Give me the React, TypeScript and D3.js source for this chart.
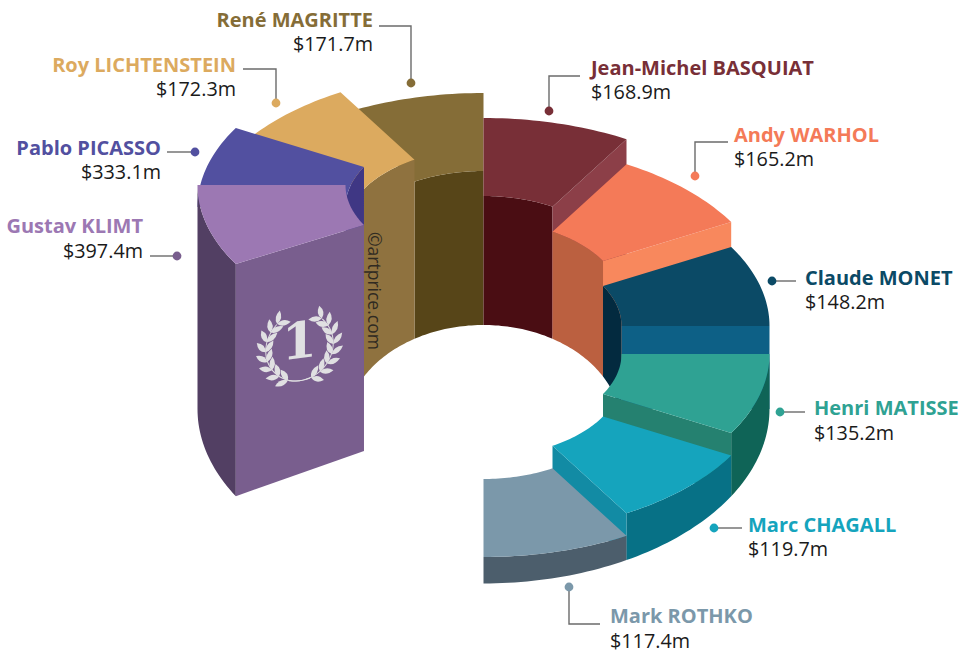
import React from "react";
import * as d3 from "d3";

const artists = [
  "Gustav KLIMT",
  "Pablo PICASSO",
  "Roy LICHTENSTEIN",
  "René MAGRITTE",
  "Jean-Michel BASQUIAT",
  "Andy WARHOL",
  "Claude MONET",
  "Henri MATISSE",
  "Marc CHAGALL",
  "Mark ROTHKO",
];
const sales = [397.4, 333.1, 172.3, 171.7, 168.9, 165.2, 148.2, 135.2, 119.7, 117.4];

const topColors = ["#9c78b3", "#5250a0", "#dcaa5f", "#856d37", "#782f37", "#f47a58", "#0b4a66", "#2fa293", "#15a4bd", "#7b98aa"];
const cutColors = ["#795e8e", "#5250a0", "#dcaa5f", "#856d37", "#8c3f48", "#f8885d", "#0d6086", "#258170", "#128ba4", "#4c5e6c"];
const innerColors = ["#3f3784", "#3f3784", "#8f723f", "#574518", "#4a0d13", "#bb6040", "#032a3f", "#0f6457", "#077186", "#4c5e6c"];
const outerColors = ["#523f63", "#3f3784", "#8f723f", "#574518", "#4a0d13", "#bb6040", "#0b4a66", "#0f6457", "#077186", "#4c5e6c"];
const dotColors = ["#795e8e", "#5250a0", "#dcaa5f", "#856d37", "#782f37", "#f47a58", "#0b4a66", "#2fa293", "#15a4bd", "#7b98aa"];

// label text anchor + leader polyline, same order as artists
const labelLayout = [
  { x: 143, y: 233, dy: 25, anchor: "end", leader: [[150, 256], [177, 256]] },
  { x: 161, y: 155, dy: 24, anchor: "end", leader: [[167, 152], [195, 152]] },
  { x: 236, y: 72, dy: 24, anchor: "end", leader: [[243, 69], [276, 69], [276, 103]] },
  { x: 373, y: 27, dy: 24, anchor: "end", leader: [[379, 26], [411, 26], [411, 83]] },
  { x: 591, y: 75, dy: 24, anchor: "start", leader: [[580, 76], [549, 76], [549, 111]] },
  { x: 734, y: 142, dy: 24, anchor: "start", leader: [[728, 142], [695, 142], [695, 176]] },
  { x: 805, y: 285, dy: 24, anchor: "start", leader: [[796, 281], [772, 281]] },
  { x: 814, y: 415, dy: 25, anchor: "start", leader: [[805, 412], [780, 412]] },
  { x: 748, y: 532, dy: 24, anchor: "start", leader: [[742, 528], [714, 528]] },
  { x: 610, y: 623, dy: 24.5, anchor: "start", leader: [[600, 624], [569, 624], [569, 587]] },
];

const width = 964;
const height = 651;
const cx = 483.5;
const outerR = 286;
const innerR = 138;
const outerRy = 158;
const innerRy = 80;
const baseK = 0.61;
const baseY = 409;
const holeY = 428;
const holeRy = 103;

const rad = (d: number) => (d * Math.PI) / 180;

// slices run clockwise from Klimt at 240deg, 30deg each, leaving a 60deg gap
const angle = d3.scaleLinear().domain([0, artists.length]).range([rad(240), rad(540)]);
// each step of the staircase sits lower than the previous one
const topY = d3.scaleLinear().domain([0, 3, 6, 7, 9]).range([185, 251, 326, 354, 399]);

const pt = (r: number, a: number, y: number, ry: number): [number, number] => [
  cx + r * Math.sin(a),
  y - ry * Math.cos(a),
];
const line = d3.line();

const sweep = (a0: number, a1: number) => d3.range(0, 25).map((i) => a0 + ((a1 - a0) * i) / 24);

function wall(r: number, ryTop: number, a0: number, a1: number, yTop: number, yBase: number, ryBase: number) {
  const upper = sweep(a0, a1).map((a) => pt(r, a, yTop, ryTop));
  const lower = sweep(a1, a0).map((a) => pt(r, a, yBase, ryBase));
  return line([...upper, ...lower]) + "Z";
}

function surface(a0: number, a1: number, yTop: number) {
  const outer = sweep(a0, a1).map((a) => pt(outerR, a, yTop, outerRy));
  const inner = sweep(a1, a0).map((a) => pt(innerR, a, yTop, innerRy));
  return line([...outer, ...inner]) + "Z";
}

function cut(a: number, yTop: number) {
  return (
    line([
      pt(innerR, a, yTop, innerRy),
      pt(outerR, a, yTop, outerRy),
      pt(outerR, a, baseY, outerR * baseK),
      pt(innerR, a, baseY, innerR * baseK),
    ]) + "Z"
  );
}

function Slice({ i }: { i: number }) {
  const a0 = angle(i);
  const a1 = angle(i + 1);
  const yTop = topY(i);
  const mid = (a0 + a1) / 2;
  const back = Math.cos(mid) > 0;
  return (
    <g>
      {back && <path d={wall(innerR, innerRy, a0, a1, yTop, holeY, holeRy)} fill={innerColors[i]} />}
      {!back && <path d={wall(outerR, outerRy, a0, a1, yTop, baseY, outerR * baseK)} fill={outerColors[i]} />}
      {i === 0 && <path d={cut(a0, yTop)} fill={cutColors[i]} />}
      {i >= 4 && i < 9 && <path d={cut(a1, yTop)} fill={cutColors[i]} />}
      <path d={surface(a0, a1, yTop)} fill={topColors[i]} />
    </g>
  );
}

// small laurel wreath printed on the winner's wall
function Wreath() {
  const fill = "#e0e0e2";
  const leaf = "M0,0Q6,-5.5 13.5,0Q6,5.5 0,0Z";
  const wreathR = 34;
  const side = (s: number) => (
    <g key={s} transform={`scale(${s},1)`}>
      <path
        d={d3.line().curve(d3.curveBasis)(
          d3.range(0, 14).map((k) => {
            const t = rad(198 - k * 12);
            return [wreathR * Math.sin(t), -wreathR * Math.cos(t)];
          })
        ) as string}
        fill="none"
        stroke={fill}
        strokeWidth={1}
      />
      {d3.range(0, 8).map((k) => {
        const t = 160 - k * 17;
        const p = [wreathR * Math.sin(rad(t)), -wreathR * Math.cos(rad(t))];
        return (
          <g key={k} transform={`translate(${p[0]},${p[1]}) rotate(${t - 180})`}>
            <path d={leaf} fill={fill} transform="rotate(-38)" />
            <path d={leaf} fill={fill} transform="rotate(38)" />
          </g>
        );
      })}
    </g>
  );
  return (
    <g transform="translate(299.5,347) skewY(-7)">
      {[-1, 1].map(side)}
      <text x={0} y={11} textAnchor="middle" fontFamily="'DejaVu Serif'" fontWeight={700} fontSize={50} fill={fill}>
        1
      </text>
    </g>
  );
}

export default function App() {
  const drawOrder = [3, 2, 1, 0, 4, 5, 6, 7, 8, 9];
  return (
    <svg
      width={width}
      height={height}
      viewBox={`0 0 ${width} ${height}`}
      style={{ position: "absolute", left: 0, top: 0, background: "#fff" }}
      fontFamily="'Open Sans'"
    >
      {drawOrder.map((i) => (
        <Slice key={artists[i]} i={i} />
      ))}
      <Wreath />
      <text transform="translate(368,232) rotate(90)" fontSize={17.5} fill="#2f2a22">
        ©artprice.com
      </text>
      {artists.map((name, i) => {
        const l = labelLayout[i];
        const dot = i === 4 || i === 5 || i === 9 || i < 4 ? l.leader[l.leader.length - 1] : l.leader[1];
        return (
          <g key={name}>
            <path d={line(l.leader as [number, number][]) as string} fill="none" stroke="#6b6b6b" strokeWidth={1.4} />
            <circle cx={dot[0]} cy={dot[1]} r={4.4} fill={dotColors[i]} />
            <text x={l.x} y={l.y} textAnchor={l.anchor as "start" | "end"} fontWeight={700} fontSize={20} fill={topColors[i]}>
              {name}
            </text>
            <text x={l.x} y={l.y + l.dy} textAnchor={l.anchor as "start" | "end"} fontSize={19.8} fill="#1a1a1a">
              {`$${d3.format(".1f")(sales[i])}m`}
            </text>
          </g>
        );
      })}
    </svg>
  );
}
